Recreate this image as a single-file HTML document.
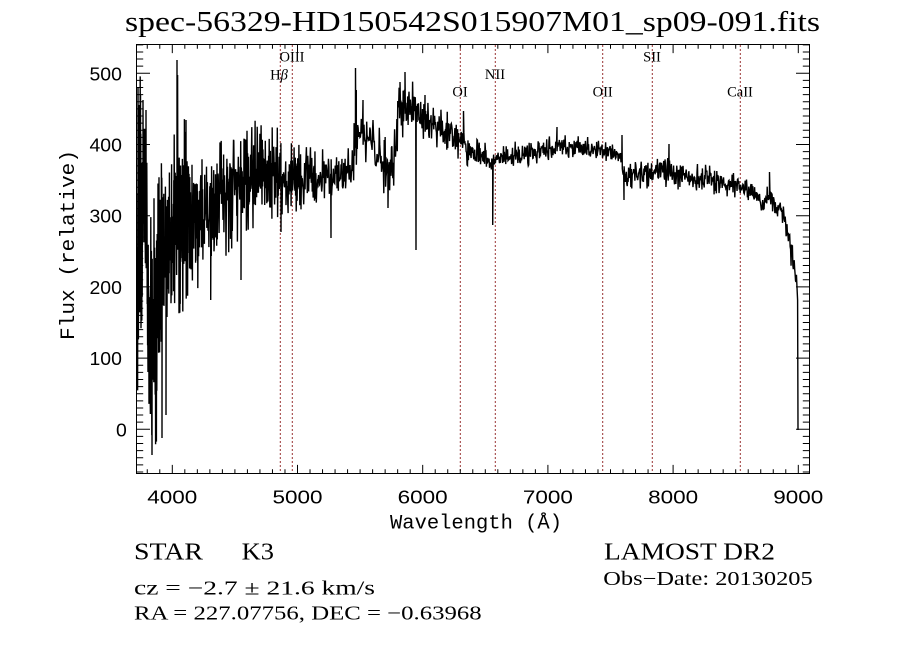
<!DOCTYPE html>
<html>
<head>
<meta charset="utf-8">
<style>
html,body{margin:0;padding:0;background:#fff;}
svg{display:block;}
.ser{font-family:"Liberation Serif",serif;}
.san{font-family:"Liberation Sans",sans-serif;}
.mon{font-family:"Liberation Mono",monospace;}
</style>
</head>
<body>
<svg id="s" width="900" height="649" viewBox="0 0 900 649" xmlns="http://www.w3.org/2000/svg">
<rect x="0" y="0" width="900" height="649" fill="#fff"/>
<defs>
<clipPath id="pc"><rect x="136.5" y="44.5" width="673" height="429"/></clipPath>
</defs>

<!-- title -->
<text class="ser" x="125" y="31" font-size="29" textLength="695" lengthAdjust="spacingAndGlyphs">spec-56329-HD150542S015907M01_sp09-091.fits</text>

<!-- emission line markers -->
<g stroke="#993333" stroke-width="1" stroke-dasharray="2,2" fill="none">
<line x1="280.3" y1="45" x2="280.3" y2="473"/>
<line x1="292.3" y1="45" x2="292.3" y2="473"/>
<line x1="460.3" y1="45" x2="460.3" y2="473"/>
<line x1="495.3" y1="45" x2="495.3" y2="473"/>
<line x1="602.7" y1="45" x2="602.7" y2="473"/>
<line x1="652.3" y1="45" x2="652.3" y2="473"/>
<line x1="740.3" y1="45" x2="740.3" y2="473"/>
</g>
<g class="ser" font-size="14.5" text-anchor="middle" fill="#000">
<text x="279" y="79.3">H<tspan font-style="italic">β</tspan></text>
<text x="292" y="61.7">OIII</text>
<text x="460" y="96.7">OI</text>
<text x="495" y="79">NII</text>
<text x="602.7" y="96.7">OII</text>
<text x="652" y="61.7">SII</text>
<text x="740" y="96.7">CaII</text>
</g>

<!-- spectrum -->
<path id="spec" clip-path="url(#pc)" fill="none" stroke="#000" stroke-width="1.4" stroke-linejoin="miter" d=""/>

<!-- axes box -->
<rect x="136.5" y="44.5" width="673" height="429" fill="none" stroke="#000" stroke-width="1"/>
<path id="ticks" fill="none" stroke="#000" stroke-width="1" d=""/>

<!-- x tick labels -->
<g class="san" font-size="18" text-anchor="middle" fill="#000">
<text x="172.3" y="503.3" textLength="50" lengthAdjust="spacingAndGlyphs">4000</text>
<text x="297.5" y="503.3" textLength="50" lengthAdjust="spacingAndGlyphs">5000</text>
<text x="422.7" y="503.3" textLength="50" lengthAdjust="spacingAndGlyphs">6000</text>
<text x="547.9" y="503.3" textLength="50" lengthAdjust="spacingAndGlyphs">7000</text>
<text x="673.1" y="503.3" textLength="50" lengthAdjust="spacingAndGlyphs">8000</text>
<text x="798.3" y="503.3" textLength="50" lengthAdjust="spacingAndGlyphs">9000</text>
</g>
<!-- y tick labels -->
<g class="san" font-size="18" fill="#000">
<text x="89.5" y="80.3" textLength="32.4" lengthAdjust="spacingAndGlyphs">500</text>
<text x="89.5" y="151.5" textLength="32.4" lengthAdjust="spacingAndGlyphs">400</text>
<text x="89.5" y="222.7" textLength="32.4" lengthAdjust="spacingAndGlyphs">300</text>
<text x="89.5" y="293.9" textLength="32.4" lengthAdjust="spacingAndGlyphs">200</text>
<text x="89.5" y="365.1" textLength="32.4" lengthAdjust="spacingAndGlyphs">100</text>
<text x="116" y="436.3" textLength="10.8" lengthAdjust="spacingAndGlyphs">0</text>
</g>

<!-- axis titles -->
<text class="mon" x="390" y="528.3" font-size="20" textLength="172" lengthAdjust="spacingAndGlyphs">Wavelength (Å)</text>
<text class="mon" font-size="20" text-anchor="middle" textLength="190" lengthAdjust="spacingAndGlyphs" transform="translate(74,245) rotate(-90)" x="0" y="0">Flux (relative)</text>

<!-- info text -->
<g class="ser" fill="#000">
<text x="134" y="559.3" font-size="24" textLength="69" lengthAdjust="spacingAndGlyphs">STAR</text>
<text x="241.7" y="559.3" font-size="24" textLength="32.3" lengthAdjust="spacingAndGlyphs">K3</text>
<text x="604" y="559.3" font-size="24" textLength="171" lengthAdjust="spacingAndGlyphs">LAMOST DR2</text>
<text x="134" y="594.5" font-size="20" textLength="241" lengthAdjust="spacingAndGlyphs">cz = −2.7 ± 21.6 km/s</text>
<text x="134" y="619.3" font-size="20" textLength="347.7" lengthAdjust="spacingAndGlyphs">RA = 227.07756, DEC =  −0.63968</text>
<text x="603.3" y="585" font-size="20" textLength="209.4" lengthAdjust="spacingAndGlyphs">Obs−Date: 20130205</text>
</g>
</svg>

<script>
(function(){
  var L=136.5,R=809.5,T=44.5,B=473.5;
  function X(l){return 172.3+(l-4000)*0.1252;}
  function Y(f){return 429.3-f*0.712;}
  var d='';
  for(var l=3800;l<=9000;l+=100){
    var x=X(l).toFixed(2);
    var len=(l%1000===0)?8.6:4.3;
    d+='M'+x+' '+B+'v'+(-len)+'M'+x+' '+T+'v'+len;
  }
  for(var f=-60;f<=540;f+=10){
    var y=Y(f).toFixed(2);
    var len2=(f%100===0)?13.5:6.7;
    d+='M'+L+' '+y+'h'+len2+'M'+R+' '+y+'h'+(-len2);
  }
  document.getElementById('ticks').setAttribute('d',d);

  function mulberry32(a){return function(){a|=0;a=a+0x6D2B79F5|0;var t=Math.imul(a^a>>>15,1|a);t=t+Math.imul(t^t>>>7,61|t)^t;return((t^t>>>14)>>>0)/4294967296;};}
  var rnd=mulberry32(20130205);
  function gauss(){var u=0;while(u===0)u=rnd();var v=rnd();return Math.sqrt(-2*Math.log(u))*Math.cos(2*Math.PI*v);}

  var A=[[136,260,170],[141,220,130],[145,200,100],[148,300,135],[153,315,125],[158,310,115],
    [163,240,80],[170,235,75],[177,215,90],[190,215,85],[195,225,60],[213,212,55],[230,190,55],
    [247,175,50],[277,172,45],[283,180,35],[310,178,28],[330,178,25],[352,172,22],[355,140,25],
    [372,135,22],[378,158,28],[394,168,30],[398,112,28],[414,108,24],[418,112,22],[440,128,20],
    [460,140,18],[470,152,14],[492,160,13],[520,154,12],[545,150,12],[560,147,11],[600,150,11],
    [619,153,11],[623,172,15],[670,172,15],[700,178,13],[740,185,12],[755,195,12],[765,205,11],
    [770,192,12],[775,205,11],[784,212,11],[789,240,14],[795,268,16],[797,285,14]];
  function at(x){
    for(var i=0;i<A.length-1;i++){
      if(x<=A[i+1][0]){var a=A[i],b=A[i+1];var t=(x-a[0])/(b[0]-a[0]);return [a[1]+(b[1]-a[1])*t,a[2]+(b[2]-a[2])*t];}
    }
    var z=A[A.length-1];return [z[1],z[2]];
  }
  var S=[[138,88],[140.5,95],[143,100],[146,110],[152,455],[162,438],[166,415],[177,60],[177.6,75],
    [186,120],[210.7,300],[241,280],[281,232],[331,238],[355.5,68],[356.3,90],[363,100],[388,208],
    [400,82],[405,72],[416,250],[425,95],[463.5,111],[492.7,225],[557,127],[622,135],[624,200],
    [669,144],[769.5,172]];
  var pts=[],si=0;
  var x=136.6;
  while(x<=797){
    while(si<S.length&&S[si][0]<=x){pts.push(S[si]);si++;}
    var ch=at(x);var g=gauss();if(g>2.2)g=2.2;if(g<-2.2)g=-2.2;
    pts.push([x,ch[0]+ch[1]/2.0*g]);
    x+= (x<200)?0.2:((x<300)?0.3:0.45);
  }
  pts.push([797.6,300],[798,430]);
  var p='M'+pts[0][0].toFixed(2)+' '+pts[0][1].toFixed(1);
  for(var i=1;i<pts.length;i++){p+='L'+pts[i][0].toFixed(2)+' '+pts[i][1].toFixed(1);}
  document.getElementById('spec').setAttribute('d',p);
})();
</script>
</body>
</html>
